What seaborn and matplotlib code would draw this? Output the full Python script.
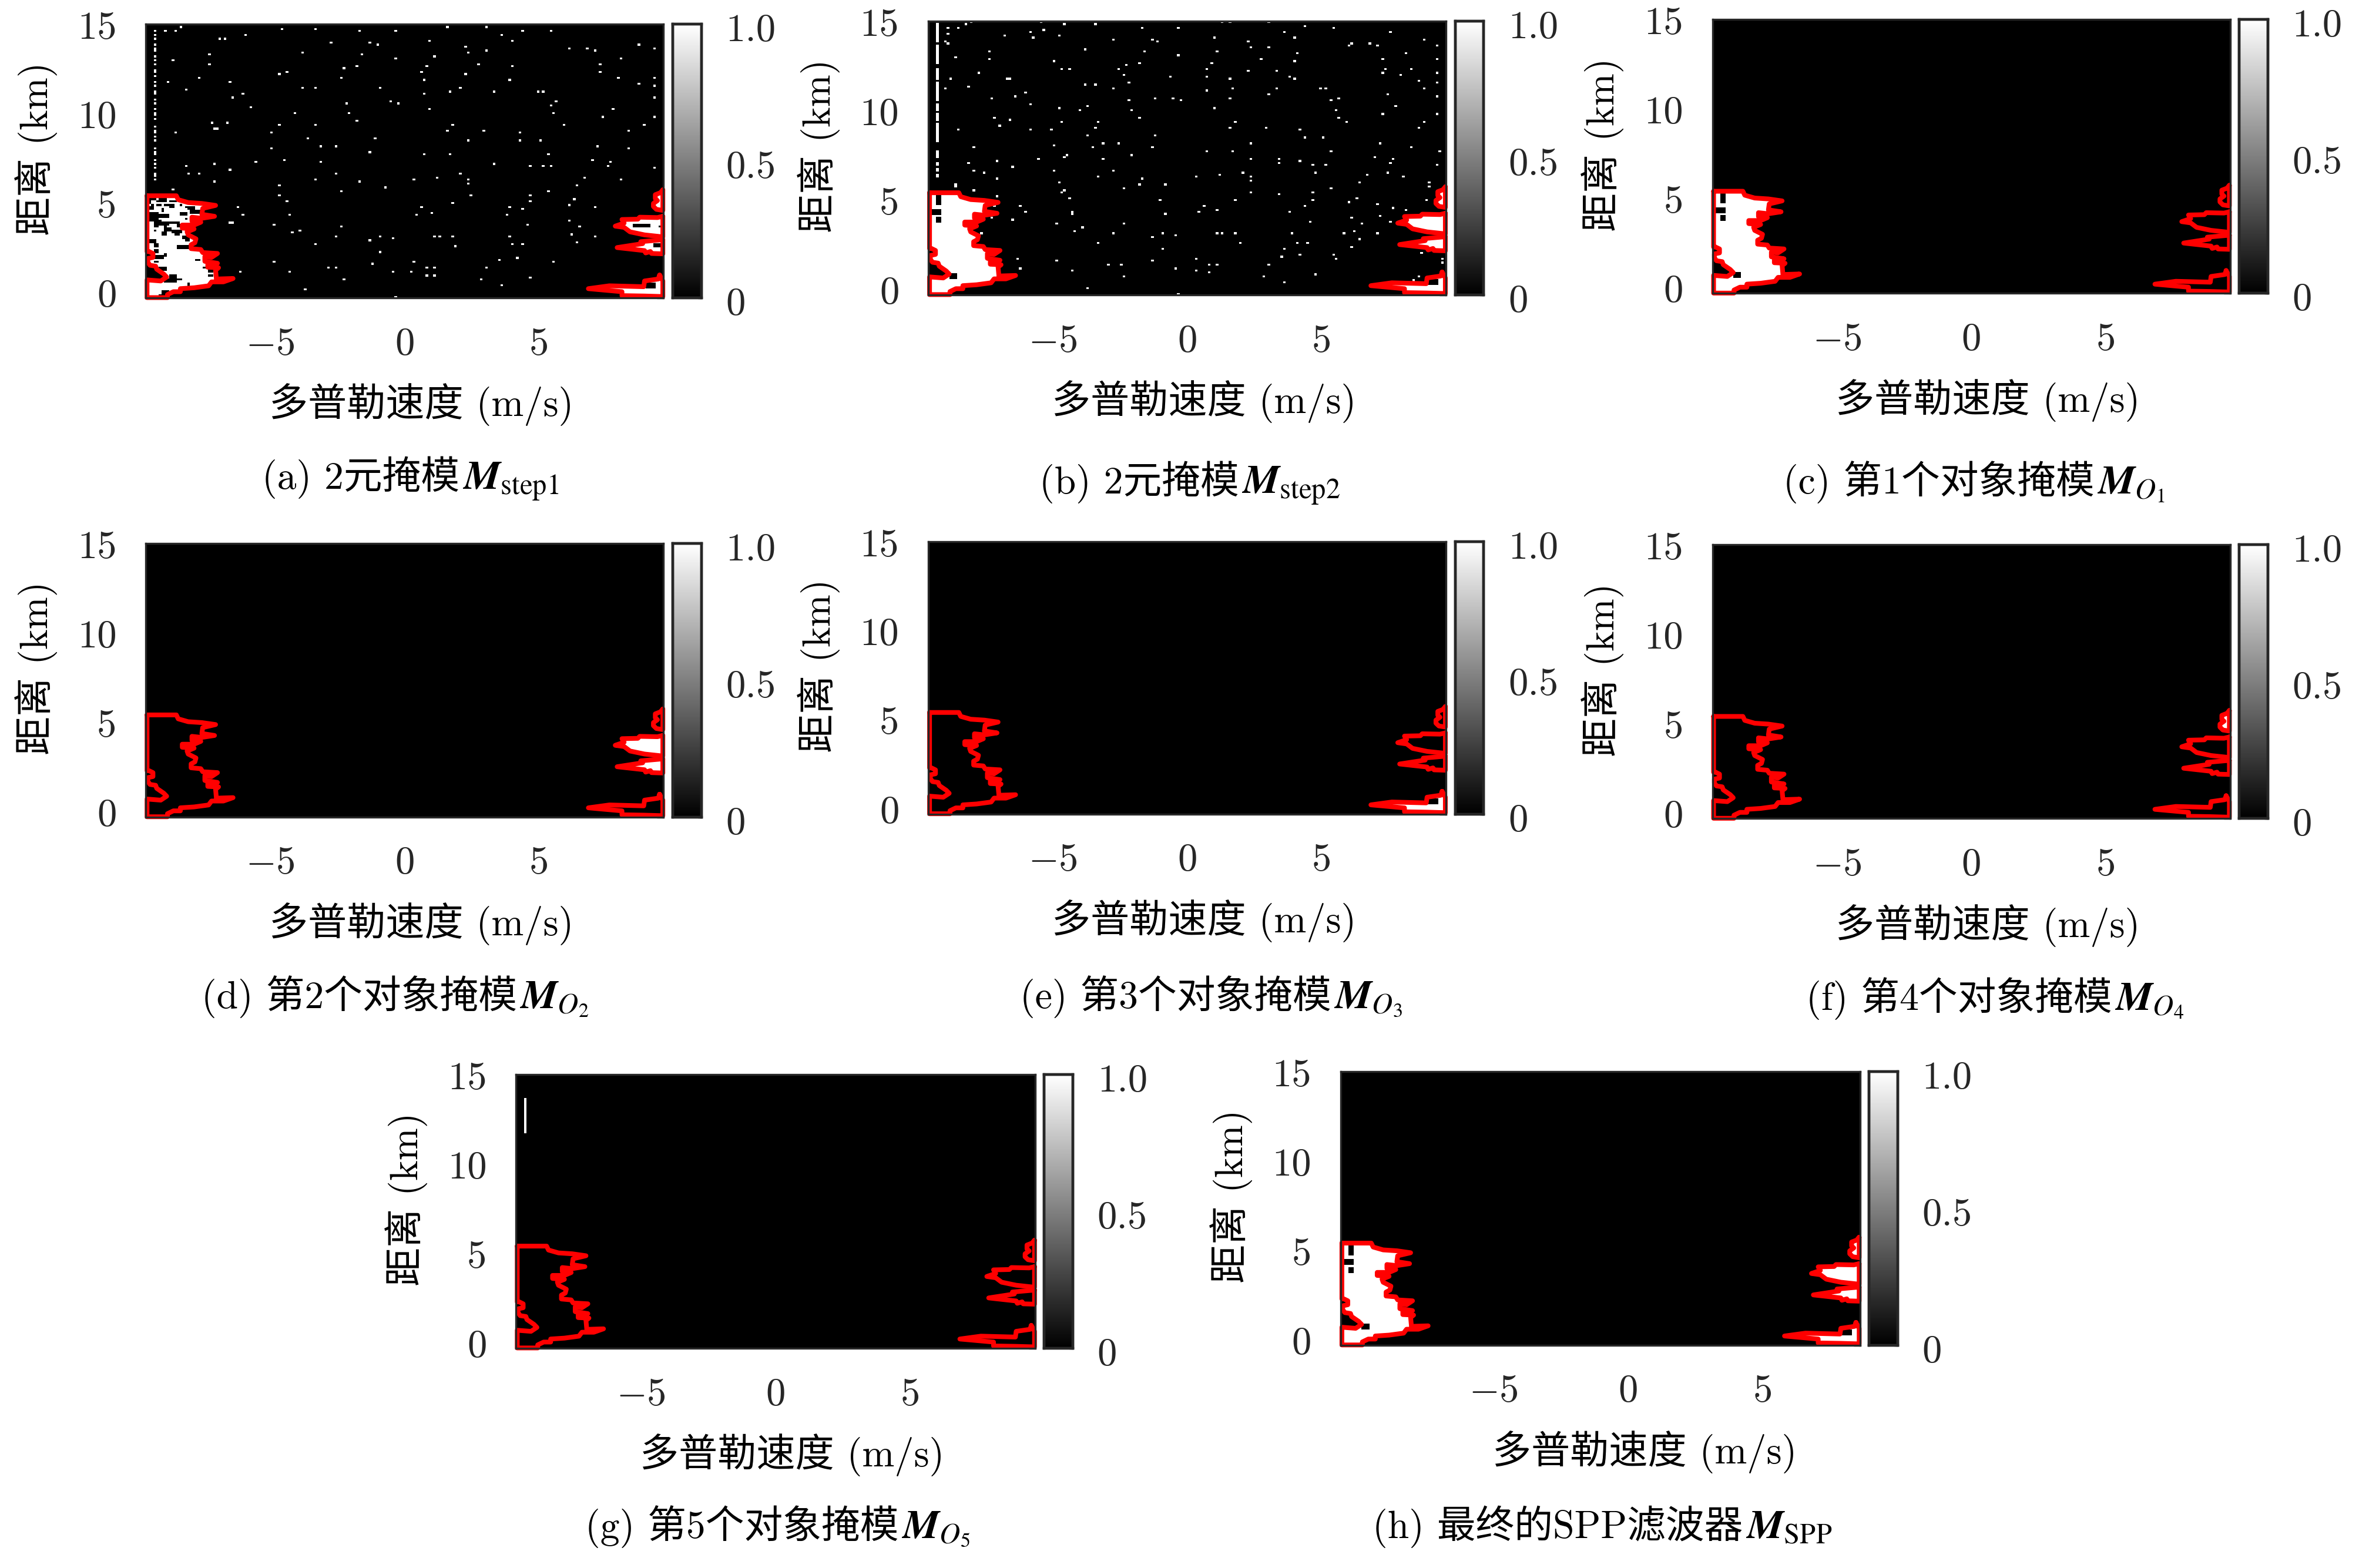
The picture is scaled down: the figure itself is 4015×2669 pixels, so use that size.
import numpy as np
import matplotlib
matplotlib.use("Agg")
import matplotlib.pyplot as plt
from matplotlib.path import Path
from matplotlib.transforms import ScaledTranslation
import seaborn as sns

# =========================
# data
# =========================
V_MAX = 9.63
R_MAX = 15.33
N_V = 200
N_R = 140
# panel h has its zero off centre
V_SHIFT_H = 1.03

V_TICKS = [-5, 0, 5]
V_TICK_LABELS = ["$-5$", "0", "5"]
R_TICKS = [0, 5, 10, 15]
CBAR_TICKS = [0, 0.5, 1.0]
CBAR_TICK_LABELS = ["0", "0.5", "1.0"]

# mask outlines: (doppler velocity m/s, range km)
LEFT_BLOB = [
    (-9.59, 5.72), (-8.50, 5.72), (-8.43, 5.50), (-8.06, 5.34), (-7.55, 5.29), (-7.04, 5.18),
    (-7.52, 5.01), (-7.55, 4.68), (-7.08, 4.57), (-7.55, 4.46), (-7.92, 4.52), (-7.92, 4.30),
    (-7.59, 4.24), (-7.84, 4.08), (-8.28, 4.08), (-8.28, 3.91), (-7.84, 3.86), (-8.10, 3.70),
    (-8.06, 3.53), (-7.77, 3.31), (-7.81, 3.09), (-7.95, 2.98), (-7.95, 2.76), (-7.59, 2.71),
    (-7.52, 2.54), (-6.97, 2.49), (-7.19, 2.27), (-7.44, 2.32), (-7.44, 2.05), (-6.97, 1.94),
    (-7.33, 1.89), (-7.33, 1.72), (-6.93, 1.69), (-7.04, 1.56), (-7.01, 1.06), (-6.39, 1.09),
    (-6.75, 0.90), (-7.19, 0.90), (-7.30, 0.68), (-7.84, 0.57), (-8.35, 0.52), (-8.35, 0.35),
    (-8.61, 0.35), (-8.83, 0.19), (-8.83, 0.02), (-9.59, 0.02), (-9.59, 1.01), (-9.08, 0.95),
    (-8.86, 1.17), (-8.97, 1.34), (-9.23, 1.61), (-9.27, 1.78), (-9.48, 1.83), (-9.56, 2.00),
    (-9.56, 2.21), (-9.37, 2.27), (-9.37, 2.49), (-9.52, 2.60), (-9.59, 2.60),
]
RIGHT_TOP = [
    (9.60, 6.05), (9.51, 5.89), (9.32, 5.78), (9.32, 5.56), (9.40, 5.45), (9.25, 5.29),
    (9.25, 5.12), (9.36, 4.96), (9.60, 4.90),
]
RIGHT_UPPER = [
    (9.60, 4.57), (9.40, 4.50), (8.74, 4.52), (8.67, 4.41), (8.08, 4.39), (8.16, 4.19),
    (7.83, 4.02), (8.16, 3.95), (8.38, 3.70), (8.92, 3.53), (9.60, 3.42),
]
RIGHT_LOWER = [
    (9.60, 3.26), (8.78, 3.15), (8.85, 3.04), (7.90, 2.82), (8.92, 2.65), (8.96, 2.52),
    (9.14, 2.60), (9.18, 2.49), (9.60, 2.47),
]
RIGHT_BOTTOM = [
    (9.48, 1.28), (9.43, 1.06), (8.92, 0.95), (8.89, 0.63), (7.61, 0.68), (6.83, 0.52),
    (8.08, 0.35), (8.08, 0.13), (8.89, 0.11), (9.60, 0.08), (9.60, 0.95),
]
OUTLINES = [LEFT_BLOB, RIGHT_TOP, RIGHT_UPPER, RIGHT_LOWER, RIGHT_BOTTOM]

# black holes inside the masks: (v0, v1, r0, r1)
HOLES_LEFT = [
    (-9.30, -9.15, 5.10, 5.60), (-9.55, -9.20, 4.50, 4.80), (-9.30, -9.20, 4.15, 4.30),
    (-8.80, -8.60, 0.93, 1.10),
]
HOLES_BOTTOM = [(8.95, 9.30, 0.63, 0.84)]
HOLES_A = [
    (-9.52, -9.30, 5.50, 5.56), (-9.48, -9.44, 5.36, 5.42), (-9.08, -8.90, 5.47, 5.53),
    (-9.16, -8.97, 5.39, 5.45), (-8.76, -8.57, 5.39, 5.45), (-9.41, -9.37, 5.15, 5.21),
    (-9.16, -9.12, 5.15, 5.21), (-8.94, -8.79, 5.15, 5.21), (-8.76, -8.61, 5.09, 5.15),
    (-8.35, -8.31, 5.15, 5.21), (-8.17, -8.06, 5.04, 5.10), (-8.06, -7.84, 4.98, 5.04),
    (-7.95, -7.63, 4.80, 4.90), (-9.45, -9.41, 4.98, 5.04), (-9.05, -9.00, 4.87, 4.93),
    (-9.48, -9.23, 4.70, 4.78), (-9.48, -9.08, 4.53, 4.61), (-8.97, -8.79, 4.54, 4.60),
    (-9.45, -9.16, 4.36, 4.44), (-9.16, -9.12, 4.32, 4.38), (-8.35, -8.17, 4.65, 4.71),
    (-8.17, -8.13, 4.38, 4.44), (-9.30, -8.83, 4.16, 4.22), (-8.79, -8.65, 4.21, 4.27),
    (-8.57, -8.43, 4.21, 4.27), (-8.46, -8.32, 4.05, 4.11), (-8.94, -8.90, 3.96, 4.02),
    (-9.27, -9.23, 3.96, 4.02), (-8.86, -8.68, 3.83, 3.89), (-9.30, -9.26, 3.77, 3.83),
    (-8.65, -8.35, 3.72, 3.78), (-8.50, -8.39, 3.56, 3.62), (-8.97, -8.93, 3.61, 3.67),
    (-8.21, -8.03, 3.39, 3.45), (-8.10, -8.06, 3.23, 3.29), (-9.52, -9.27, 3.14, 3.26),
    (-9.34, -9.19, 2.95, 3.01), (-8.39, -8.06, 2.79, 2.85), (-9.30, -9.19, 2.52, 2.66),
    (-9.59, -9.48, 2.33, 2.43), (-9.30, -9.16, 2.20, 2.34), (-8.90, -8.86, 2.37, 2.43),
    (-9.08, -9.04, 2.27, 2.33), (-9.30, -9.16, 2.02, 2.08), (-7.73, -7.69, 2.11, 2.17),
    (-9.08, -8.86, 1.61, 1.67), (-9.41, -9.30, 1.53, 1.59), (-7.48, -7.37, 1.69, 1.75),
    (-7.26, -7.15, 1.51, 1.57), (-7.26, -7.15, 1.25, 1.31), (-8.68, -8.57, 1.20, 1.26),
    (-8.86, -8.54, 0.98, 1.04), (-8.46, -8.35, 1.01, 1.07), (-8.06, -8.02, 0.76, 0.82),
    (-8.97, -8.83, 0.32, 0.38), (-9.08, -8.90, 0.12, 0.18), (8.50, 8.70, 4.05, 4.12),
    (8.85, 9.07, 4.05, 4.11), (9.45, 9.49, 3.97, 4.03), (9.30, 9.58, 2.93, 2.99),
    (9.00, 9.32, 0.65, 0.84),
]

# isolated false alarms in panels a and b: (v, r)
SPECKS_A = [
    (-8.9, 14.9), (-8.5, 14.9), (-8.3, 15.2), (-6.9, 14.5), (-6.7, 14.5), (-5.9, 14.7), (-4.6, 15.1),
    (-3.3, 15.1), (-1.7, 15.0), (-0.3, 15.0), (1.6, 15.2), (3.0, 15.2), (4.4, 15.0), (3.6, 14.7),
    (5.4, 14.9), (-2.7, 14.3), (-1.3, 14.3), (-1.0, 14.2), (0.9, 14.4), (2.3, 14.1), (4.0, 14.4),
    (6.1, 14.0), (6.8, 14.0), (7.1, 13.9), (8.7, 14.2), (9.3, 14.0), (-3.8, 13.7), (-1.6, 13.6),
    (1.1, 13.5), (2.4, 13.7), (3.0, 13.9), (-7.3, 13.6), (-8.6, 13.3), (-7.3, 13.1), (-0.3, 13.4),
    (0.8, 13.0), (0.6, 12.7), (2.7, 13.1), (4.0, 13.0), (7.3, 13.1), (8.0, 13.4), (-2.3, 12.9),
    (-4.7, 12.5), (-4.4, 12.7), (-2.4, 12.3), (-1.8, 13.0), (0.7, 12.2), (2.3, 12.5), (3.9, 12.2),
    (7.3, 12.7), (7.9, 12.3), (9.3, 12.3), (-7.7, 12.3), (-8.8, 12.1), (-6.5, 12.1), (-3.8, 11.8),
    (-3.3, 11.8), (-8.1, 11.7), (-0.9, 11.8), (2.1, 11.8), (3.3, 11.6), (5.0, 11.6), (5.2, 11.5),
    (8.7, 12.0), (9.3, 11.9), (1.7, 11.5), (0.7, 11.4), (-6.0, 11.4), (-6.4, 11.2), (9.3, 11.2),
    (-0.5, 11.0), (-0.2, 10.9), (0.9, 10.6), (-2.2, 10.9), (-2.1, 10.3), (-5.7, 10.7), (5.4, 10.8),
    (5.6, 11.0), (7.8, 10.6), (5.5, 10.3), (7.4, 10.1), (9.3, 10.1), (-4.1, 10.3), (-4.7, 9.7),
    (-3.3, 9.7), (-1.8, 9.9), (-6.6, 9.8), (-7.2, 9.8), (-7.1, 9.5), (-7.0, 9.5), (5.9, 9.7),
    (8.3, 9.4), (1.8, 9.7), (1.6, 9.4), (2.9, 9.4), (8.9, 9.7), (-5.0, 9.3), (-8.5, 9.3), (4.3, 9.2),
    (-3.6, 8.9), (-1.1, 8.9), (4.3, 8.8), (5.1, 8.8), (2.4, 8.8), (-2.6, 8.5), (-3.1, 8.5), (-5.0, 8.4),
    (-1.3, 8.2), (7.2, 8.5), (8.3, 8.4), (5.3, 8.1), (1.7, 8.1), (0.7, 8.0), (-4.5, 7.7), (-5.5, 7.6),
    (-3.1, 7.6), (3.3, 7.5), (4.7, 7.4), (5.2, 7.4), (5.4, 7.4), (7.0, 7.7), (7.7, 7.6), (7.6, 7.4),
    (9.3, 7.3), (-7.1, 7.5), (-8.1, 7.4), (-6.5, 7.2), (-2.6, 7.0), (-8.0, 7.0), (-7.7, 6.9), (-3.3, 6.6),
    (-1.7, 6.5), (0.3, 6.6), (1.2, 6.7), (2.1, 6.9), (2.4, 6.6), (6.7, 6.7), (8.0, 6.6), (-7.1, 6.5),
    (-4.7, 6.3), (-0.7, 6.2), (2.4, 6.4), (6.4, 6.3), (-8.6, 6.1), (-2.4, 6.0), (5.3, 6.0), (4.7, 5.8),
    (2.5, 5.8), (-4.7, 5.8), (-4.4, 5.4), (1.8, 5.3), (4.7, 5.4), (6.3, 5.5), (6.1, 5.2), (0.6, 5.1),
    (3.9, 5.1), (4.4, 5.0), (-6.2, 5.1), (-6.0, 4.7), (-4.3, 4.6), (0.4, 4.7), (1.0, 4.8), (3.8, 4.6),
    (7.1, 5.1), (6.1, 4.3), (-6.5, 4.2), (-6.4, 4.2), (-4.9, 4.1), (-2.4, 4.0), (4.6, 4.1), (6.5, 4.0),
    (-3.9, 3.8), (-4.2, 3.7), (-2.6, 3.5), (-0.9, 3.5), (1.1, 3.5), (1.3, 3.5), (1.8, 3.4), (3.9, 3.5),
    (6.2, 3.6), (-1.3, 3.2), (-0.4, 3.3), (6.4, 3.1), (7.1, 3.4), (-3.3, 3.0), (1.9, 2.9), (4.0, 3.0),
    (4.4, 3.0), (-0.9, 2.6), (-4.9, 2.0), (-1.2, 1.9), (0.3, 2.0), (3.5, 2.1), (4.2, 2.2), (5.5, 2.0),
    (-6.1, 1.5), (-4.3, 1.5), (-2.8, 1.7), (-2.6, 1.7), (-0.4, 1.5), (0.8, 1.7), (1.1, 1.7), (0.2, 1.5),
    (3.0, 1.7), (0.8, 1.3), (1.1, 1.3), (2.8, 1.0), (-2.3, 1.0), (4.7, 1.1), (-3.7, 0.5), (-0.3, 0.1),
    (3.6, 0.7),
]
SPECKS_B = [
    (-8.2, 15.2), (-8.0, 15.25), (-5.4, 15.3), (-4.6, 15.2), (-3.4, 15.2), (-1.7, 15.0), (-0.3, 15.0),
    (1.3, 15.3), (1.6, 15.3), (3.0, 15.3), (4.4, 15.1), (5.4, 14.9), (-8.9, 14.9), (-8.5, 14.9),
    (-5.3, 14.8), (3.6, 14.7), (7.6, 14.7), (-8.9, 14.6), (-5.8, 14.7), (-6.8, 14.5), (-4.8, 14.5),
    (-5.7, 14.4), (1.0, 14.4), (4.0, 14.4), (-2.7, 14.3), (-1.3, 14.3), (-1.1, 14.2), (8.8, 14.3),
    (-9.0, 14.2), (-8.9, 14.1), (2.3, 14.2), (6.1, 14.1), (6.0, 14.0), (6.8, 14.1), (7.1, 14.0),
    (9.3, 14.0), (3.0, 13.9), (2.4, 13.8), (-3.8, 13.7), (-7.4, 13.6), (-1.6, 13.6), (1.1, 13.6),
    (4.1, 13.5), (8.1, 13.5), (-0.3, 13.4), (-8.6, 13.3), (-7.4, 13.2), (2.7, 13.2), (7.3, 13.2),
    (9.3, 13.2), (-5.0, 13.1), (4.0, 13.1), (0.9, 13.0), (-1.8, 13.0), (-2.3, 12.9), (0.7, 12.7),
    (7.4, 12.7), (-4.4, 12.7), (-4.7, 12.6), (-2.6, 12.6), (8.3, 12.6), (2.3, 12.5), (3.3, 12.5),
    (-7.8, 12.4), (7.3, 12.4), (-2.4, 12.3), (7.9, 12.3), (9.3, 12.4), (-0.6, 12.2), (0.7, 12.2),
    (3.8, 12.2), (4.0, 12.1), (1.6, 12.1), (-8.8, 12.1), (-6.6, 12.1), (-6.7, 12.1), (8.6, 12.0),
    (9.3, 11.9), (-2.2, 11.9), (-3.8, 11.8), (-3.4, 11.8), (-8.1, 11.7), (3.3, 11.6), (5.0, 11.6),
    (5.2, 11.6), (-2.7, 11.6), (1.7, 11.6), (8.8, 11.6), (-9.0, 11.5), (0.7, 11.4), (-6.0, 11.3),
    (3.0, 11.2), (7.5, 11.2), (-6.4, 11.1), (9.3, 11.1), (-0.5, 11.0), (-1.2, 11.0), (-7.3, 11.0),
    (1.6, 11.0), (5.6, 11.0), (-2.2, 10.9), (-0.2, 10.9), (5.3, 10.9), (-5.8, 10.7), (7.8, 10.6),
    (-3.7, 10.6), (-4.8, 10.5), (1.0, 10.5), (-2.1, 10.4), (5.5, 10.4), (-4.0, 10.3), (7.3, 10.1),
    (9.3, 10.1), (-1.8, 9.9), (-7.2, 9.9), (5.6, 9.9), (-6.6, 9.8), (-4.7, 9.7), (-3.3, 9.7), (1.8, 9.7),
    (5.9, 9.7), (8.8, 9.7), (-7.0, 9.5), (-3.4, 9.4), (2.9, 9.4), (8.6, 9.4), (1.6, 9.4), (-8.5, 9.3),
    (-5.8, 9.2), (-5.1, 9.3), (4.2, 9.3), (-3.7, 8.9), (-1.2, 8.9), (4.4, 8.8), (5.1, 8.8), (2.4, 8.5),
    (7.2, 8.5), (-5.0, 8.4), (-3.1, 8.5), (-2.6, 8.5), (-3.5, 8.3), (8.3, 8.3), (-7.9, 8.3), (-1.3, 8.3),
    (0.7, 8.0), (1.7, 8.0), (5.3, 8.1), (9.4, 8.0), (-4.5, 7.8), (-4.6, 7.7), (-2.1, 7.8), (7.0, 7.7),
    (-5.5, 7.6), (-3.1, 7.6), (2.4, 7.6), (3.4, 7.6), (4.2, 7.5), (7.7, 7.6), (-7.1, 7.5), (-8.1, 7.4),
    (3.4, 7.4), (7.6, 7.4), (4.7, 7.3), (5.2, 7.3), (9.3, 7.3), (-6.5, 7.2), (-5.0, 7.0), (-2.7, 7.0),
    (-7.9, 6.9), (-7.6, 6.8), (2.1, 6.8), (4.8, 6.8), (7.5, 6.8), (1.2, 6.7), (6.7, 6.7), (-3.3, 6.6),
    (0.3, 6.6), (2.4, 6.6), (8.0, 6.6), (-7.1, 6.5), (-1.7, 6.5), (2.4, 6.4), (-4.8, 6.3), (6.4, 6.3),
    (9.0, 6.3), (-8.6, 6.2), (-1.8, 6.2), (-0.8, 6.2), (-8.6, 6.1), (9.0, 6.1), (-2.4, 6.0), (5.3, 6.0),
    (-4.6, 5.9), (-7.9, 5.9), (2.4, 5.8), (4.7, 5.8), (-4.7, 5.7), (3.4, 5.6), (-4.4, 5.4), (-7.1, 5.5),
    (-1.0, 5.3), (1.8, 5.3), (4.7, 5.3), (6.3, 5.4), (6.0, 5.2), (7.1, 5.1), (8.9, 5.3), (-6.2, 5.0),
    (0.6, 5.0), (-7.2, 5.0), (4.4, 5.0), (7.7, 4.9), (8.1, 4.8), (1.1, 4.8), (0.4, 4.7), (-6.0, 4.7),
    (3.8, 4.6), (-4.3, 4.6), (-4.3, 4.5), (-0.8, 4.5), (7.2, 4.4), (-7.3, 4.3), (6.1, 4.3), (-6.5, 4.2),
    (4.6, 4.1), (7.6, 4.1), (-4.9, 4.0), (-2.4, 4.0), (6.5, 4.0), (-3.9, 3.8), (-4.2, 3.6), (1.1, 3.5),
    (6.2, 3.6), (3.9, 3.5), (-0.9, 3.5), (1.3, 3.5), (5.8, 3.5), (-2.7, 3.5), (-7.7, 3.4), (1.8, 3.4),
    (7.1, 3.4), (-0.4, 3.3), (-1.3, 3.2), (6.4, 3.1), (-3.3, 2.9), (4.1, 2.9), (4.5, 2.9), (2.0, 2.9),
    (6.1, 2.7), (-0.9, 2.6), (3.6, 2.6), (8.7, 2.4), (5.4, 2.2), (4.2, 2.2), (3.5, 2.1), (-6.3, 2.0),
    (0.3, 2.0), (5.5, 2.0), (9.5, 2.0), (-4.9, 1.9), (-1.3, 1.9), (9.5, 1.8), (-2.9, 1.7), (-2.5, 1.7),
    (0.8, 1.7), (1.1, 1.7), (3.0, 1.7), (-0.4, 1.5), (-6.2, 1.5), (-4.3, 1.4), (0.3, 1.4), (0.8, 1.3),
    (4.8, 1.1), (2.8, 1.0), (-2.4, 1.0), (8.6, 1.0), (3.6, 0.7), (8.4, 0.8), (-3.7, 0.4), (-0.3, 0.1),
]
# near-vertical clutter column close to the left edge
COLUMN_A_V = -9.29
COLUMN_A_R = [
    15.0, 14.7, 14.5, 14.2, 14.0, 13.8, 13.5, 13.3, 13.1, 12.8, 12.6, 12.4, 12.1, 11.9, 11.6, 11.4,
    11.1, 10.9, 10.6, 10.3, 10.2, 10.0, 9.6, 9.4, 9.2, 9.0, 8.8, 8.4, 8.2, 8.0, 7.7, 7.5, 7.3, 7.0,
    6.8, 6.6,
]
COLUMN_B_V = -9.30
COLUMN_B_SEGMENTS = [
    (14.2, 15.2), (13.0, 14.0), (12.15, 12.7), (10.9, 11.9), (10.3, 10.7), (9.8, 10.1), (8.55, 9.55),
    (7.75, 8.1), (7.25, 7.35), (7.0, 7.1), (6.65, 6.75),
]
COLUMN_G_V = -9.32
COLUMN_G_SEGMENTS = [(12.1, 14.0)]

CAPTIONS = [
    "(a) 2元掩模", "(b) 2元掩模", "(c) 第1个对象掩模", "(d) 第2个对象掩模",
    "(e) 第3个对象掩模", "(f) 第4个对象掩模", "(g) 第5个对象掩模", "(h) 最终的SPP滤波器",
]
CAPTION_SYMBOLS = [
    r"$\mathbfit{M}_{\mathrm{step1}}$", r"$\mathbfit{M}_{\mathrm{step2}}$",
    r"$\mathbfit{M}_{O_1}$", r"$\mathbfit{M}_{O_2}$", r"$\mathbfit{M}_{O_3}$",
    r"$\mathbfit{M}_{O_4}$", r"$\mathbfit{M}_{O_5}$", r"$\mathbfit{M}_{\mathrm{SPP}}$",
]
XLABEL = "多普勒速度 (m/s)"
YLABEL = "距离 (km)"

# =========================
# layout, in px of the 1568x1042 view
# =========================
W, H = 1568.0, 1042.0
BOXES = [
    (97, 16, 441, 198), (617, 14, 961, 196), (1138, 13, 1482, 195),
    (97, 361, 441, 543), (617, 360, 961, 541), (1138, 362, 1482, 544),
    (343, 714, 688, 896), (891, 712, 1236, 894),
]
CAPTION_POS = [
    (272, 325), (790, 328), (1311, 328), (262, 670),
    (804, 670), (1325, 671), (516, 1022), (1064, 1022),
]
FAMILY = ["cmr10", "Noto Sans CJK SC"]
FRAME = "#262626"
TICK_PT = 24


def to_cell_x(v):
    return (np.asarray(v) + V_MAX) / (2 * V_MAX) * N_V


def to_cell_y(r):
    return np.asarray(r) / R_MAX * N_R


def fill_polygon(grid, polygon):
    xc, yc = np.meshgrid(np.arange(N_V) + 0.5, np.arange(N_R) + 0.5)
    # masks run up to the axes edge
    poly = [(float(to_cell_x(v)), float(to_cell_y(r))) for v, r in polygon]
    inside = Path(poly).contains_points(np.c_[xc.ravel(), yc.ravel()]).reshape(xc.shape)
    grid[inside] = 1.0


def set_rect(grid, v0, v1, r0, r1, value):
    i0, i1 = int(to_cell_x(v0)), int(np.ceil(to_cell_x(v1)))
    j0, j1 = int(to_cell_y(r0)), int(np.ceil(to_cell_y(r1)))
    grid[j0:j1, i0:i1] = value


def set_point(grid, v, r):
    i = int(to_cell_x(v))
    j = int(to_cell_y(r))
    grid[min(j, N_R - 1), min(i, N_V - 1)] = 1.0


def make_grid(polygons=(), holes=(), specks=(), column=None):
    grid = np.zeros((N_R, N_V))
    for polygon in polygons:
        fill_polygon(grid, polygon)
    for hole in holes:
        set_rect(grid, *hole, 0.0)
    for v, r in specks:
        set_point(grid, v, r)
    if column is not None:
        col_v, segments = column
        for r0, r1 in segments:
            set_rect(grid, col_v, col_v + 0.001, r0, r1, 1.0)
    return grid


column_a = [(COLUMN_A_V, r) for r in COLUMN_A_R]
column_b = (COLUMN_B_V, COLUMN_B_SEGMENTS)
column_g = (COLUMN_G_V, COLUMN_G_SEGMENTS)

PANELS = [
    make_grid(OUTLINES, HOLES_A, SPECKS_A + column_a),
    make_grid(OUTLINES, HOLES_LEFT + HOLES_BOTTOM, SPECKS_B, column_b),
    make_grid([LEFT_BLOB], HOLES_LEFT),
    make_grid([RIGHT_UPPER, RIGHT_LOWER]),
    make_grid([RIGHT_BOTTOM], HOLES_BOTTOM),
    make_grid([RIGHT_TOP]),
    make_grid(column=column_g),
    make_grid(OUTLINES, HOLES_LEFT + HOLES_BOTTOM),
]
V_SHIFTS = [0, 0, 0, 0, 0, 0, 0, V_SHIFT_H]

# =========================
# plot
# =========================
sns.set_theme(style="white")
plt.rcParams["font.family"] = FAMILY
plt.rcParams["mathtext.fontset"] = "cm"
plt.rcParams["axes.unicode_minus"] = False

fig = plt.figure(figsize=(20.08, 13.345), dpi=200)
renderer = fig.canvas.get_renderer()

for n, (grid, box) in enumerate(zip(PANELS, BOXES)):
    x0, y0, x1, y1 = box
    ax = fig.add_axes([x0 / W, 1 - y1 / H, (x1 - x0) / W, (y1 - y0) / H])
    cax = fig.add_axes([(x1 + 6) / W, 1 - y1 / H, 19 / W, (y1 - y0) / H])

    sns.heatmap(grid, ax=ax, cbar_ax=cax, cmap="gray", vmin=0, vmax=1,
                xticklabels=False, yticklabels=False,
                cbar_kws={"ticks": CBAR_TICKS})
    ax.set_xlim(0, N_V)
    ax.set_ylim(0, N_R)

    # outlines
    for outline in OUTLINES:
        pts = outline + [outline[0]]
        ax.plot(to_cell_x([p[0] for p in pts]), to_cell_y([p[1] for p in pts]),
                color="#ff0000", lw=2.9, solid_joinstyle="round", clip_on=False)

    ax.set_xticks(to_cell_x(np.array(V_TICKS) + V_SHIFTS[n]))
    ax.set_xticklabels(V_TICK_LABELS, rotation=0, fontsize=TICK_PT)
    ax.set_yticks(to_cell_y(R_TICKS))
    ax.set_yticklabels([str(t) for t in R_TICKS], rotation=0, fontsize=TICK_PT)
    ax.tick_params(axis="x", direction="in", length=4, width=1.2, color=FRAME, pad=18,
                   top=True, bottom=True)
    ax.tick_params(axis="y", direction="in", length=4, width=1.2, color=FRAME, pad=18,
                   left=True, right=True)
    for spine in ax.spines.values():
        spine.set_visible(True)
        spine.set_color(FRAME)
        spine.set_linewidth(1.2)
        spine.set_zorder(5)

    cax.set_yticks(CBAR_TICKS)
    cax.set_yticklabels(CBAR_TICK_LABELS, fontsize=TICK_PT)
    cax.tick_params(axis="y", direction="in", length=2, width=1.2, color=FRAME, pad=15,
                    right=True, left=False)
    for spine in cax.spines.values():
        spine.set_visible(True)
        spine.set_color(FRAME)
        spine.set_linewidth(1.6)

    # labels sit a little off their ticks in the original
    up = ScaledTranslation(0, 3 / 72, fig.dpi_scale_trans)
    down = ScaledTranslation(0, -2 / 72, fig.dpi_scale_trans)
    for label in ax.get_yticklabels():
        label.set_transform(label.get_transform() + up)
    for label in cax.get_yticklabels():
        label.set_transform(label.get_transform() + down)

    xlabel_off = 11 + V_SHIFTS[n] * 18
    fig.text(((x0 + x1) / 2 + xlabel_off) / W, 1 - (y1 + 71) / H, XLABEL, ha="center", va="center",
             fontsize=23.8, family=FAMILY, color="black")
    fig.text((x0 - 73) / W, 1 - ((y0 + y1) / 2 - 8) / H, YLABEL, ha="center", va="center",
             rotation=90, fontsize=23.8, family=FAMILY, color="black")

    # caption: plain part followed by the math symbol, centred together
    cx, cy = CAPTION_POS[n]
    t1 = fig.text(0, 1 - cy / H, CAPTIONS[n], ha="left", va="baseline", fontsize=23.7,
                  family=FAMILY, color="black")
    t2 = fig.text(0, 1 - cy / H, CAPTION_SYMBOLS[n], ha="left", va="baseline", fontsize=25,
                  math_fontfamily="stix", color="black")
    w1 = t1.get_window_extent(renderer).width / fig.bbox.width
    w2 = t2.get_window_extent(renderer).width / fig.bbox.width
    left = cx / W - (w1 + w2) / 2
    t1.set_x(left)
    t2.set_x(left + w1 + 0.001)

fig.savefig("out.png", dpi=200)
